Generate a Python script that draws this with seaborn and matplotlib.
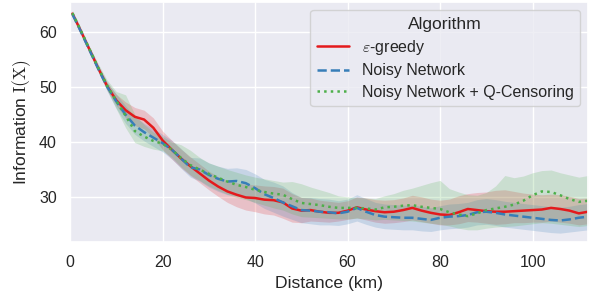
import pandas as pd
import seaborn as sns
import matplotlib
matplotlib.use("Agg")
import matplotlib.pyplot as plt

# Distance grid (km)
distance = [0.5, 2, 4, 6, 8, 10, 12, 14, 16, 18, 20, 22, 24, 26, 28, 30, 32, 34, 36, 38,
            40, 42, 44, 46, 48, 50, 52, 54, 56, 58, 60, 62, 64, 66, 68, 70, 72, 74, 76, 78,
            80, 82, 84, 86, 88, 90, 92, 94, 96, 98, 100, 102, 104, 106, 108, 110, 112]

# epsilon-greedy
greedy_mean = [63.4, 60.8, 57.2, 53.6, 50.2, 47.6, 45.8, 44.6, 44.1, 42.6, 40.3, 38.6, 37.0, 35.6, 34.3,
               33.0, 31.9, 31.0, 30.4, 29.9, 29.8, 29.5, 29.4, 29.0, 27.9, 27.5, 27.6, 27.3, 27.1, 27.1,
               27.5, 28.1, 27.7, 27.4, 27.2, 27.3, 27.6, 28.0, 27.5, 27.1, 26.8, 26.7, 27.2, 27.8, 27.6,
               27.4, 27.3, 27.3, 27.4, 27.5, 27.6, 27.7, 28.0, 27.8, 27.5, 27.0, 27.3]
greedy_low = [63.0, 60.4, 56.8, 53.1, 49.5, 46.6, 44.4, 43.0, 42.4, 40.8, 38.6, 36.9, 35.3, 33.9, 32.6,
              31.3, 30.1, 29.0, 28.2, 27.6, 27.3, 26.9, 26.7, 26.1, 25.4, 25.3, 25.6, 25.5, 25.4, 25.6,
              25.9, 26.2, 25.8, 25.4, 25.2, 25.3, 25.5, 25.8, 25.5, 25.2, 24.9, 24.9, 25.1, 25.5, 25.4,
              25.2, 25.0, 25.1, 25.3, 25.3, 25.4, 25.4, 25.6, 25.4, 25.2, 24.9, 25.1]
greedy_high = [63.8, 61.2, 57.6, 54.1, 50.9, 48.7, 47.3, 46.3, 45.8, 44.4, 42.0, 40.3, 38.7, 37.3, 36.0,
               34.7, 33.7, 33.0, 32.6, 32.3, 32.2, 32.0, 31.9, 31.6, 30.6, 29.9, 29.8, 29.4, 29.2, 29.0,
               29.3, 30.0, 29.8, 29.5, 29.4, 29.5, 29.8, 30.3, 30.0, 29.6, 29.4, 29.6, 30.2, 30.6, 30.8,
               30.9, 31.2, 31.3, 31.0, 30.7, 30.5, 30.4, 30.5, 30.4, 30.1, 29.7, 29.8]

# Noisy Network
noisy_mean = [63.3, 60.7, 57.1, 53.5, 50.1, 47.4, 45.0, 43.0, 41.8, 40.8, 39.8, 38.6, 37.0, 35.4, 35.0,
              34.0, 33.3, 32.8, 32.9, 32.5, 31.6, 30.5, 29.8, 29.0, 28.3, 27.6, 27.5, 27.3, 27.2, 27.0,
              27.3, 28.0, 27.3, 26.7, 26.4, 26.3, 26.2, 26.2, 26.0, 25.8, 26.2, 26.4, 26.5, 26.7, 27.2,
              27.3, 27.1, 26.8, 26.6, 26.4, 26.2, 26.0, 25.8, 25.7, 25.9, 26.2, 26.4]
noisy_low = [62.9, 60.3, 56.6, 52.9, 49.3, 46.1, 43.4, 41.4, 40.2, 39.2, 38.2, 36.9, 35.2, 33.6, 32.9,
             31.8, 31.0, 30.4, 30.2, 29.7, 28.9, 27.9, 27.2, 26.5, 25.9, 25.3, 25.1, 24.9, 24.9, 24.8,
             25.1, 25.6, 25.0, 24.5, 24.2, 24.1, 24.0, 24.0, 23.8, 23.7, 24.0, 24.2, 24.3, 24.5, 24.9,
             25.0, 24.8, 24.5, 24.3, 24.1, 23.9, 23.7, 23.5, 23.4, 23.6, 23.8, 24.0]
noisy_high = [63.7, 61.1, 57.6, 54.1, 50.9, 48.7, 46.6, 44.6, 43.4, 42.4, 41.4, 40.3, 38.8, 37.2, 37.1,
              36.2, 35.6, 35.2, 35.3, 35.0, 34.2, 33.2, 32.7, 32.0, 30.8, 29.9, 29.9, 29.7, 29.6, 29.3,
              29.6, 30.4, 29.7, 29.0, 28.7, 28.6, 28.5, 28.5, 28.3, 28.0, 28.4, 28.7, 28.8, 29.0, 29.5,
              29.7, 29.5, 29.2, 29.0, 28.8, 28.6, 28.4, 28.2, 28.1, 28.3, 28.6, 28.8]

# Noisy Network + Q-Censoring
censor_mean = [63.5, 60.9, 57.3, 53.7, 50.3, 47.5, 44.8, 42.0, 41.0, 40.2, 39.7, 38.6, 37.1, 35.8, 35.0,
               34.2, 33.5, 32.8, 32.2, 31.8, 31.3, 30.9, 30.6, 30.4, 29.6, 28.9, 28.7, 28.5, 28.2, 28.0,
               28.0, 28.0, 27.9, 27.7, 28.1, 28.2, 28.4, 28.5, 28.2, 28.0, 27.8, 27.2, 26.8, 26.5, 27.0,
               27.6, 27.9, 28.2, 28.6, 29.3, 30.3, 31.0, 30.9, 30.3, 29.6, 29.1, 29.3]
censor_low = [63.0, 60.4, 56.8, 53.1, 49.4, 46.0, 42.6, 39.9, 39.2, 38.7, 38.4, 37.2, 35.5, 34.0, 33.0,
              32.0, 31.2, 30.5, 29.9, 29.5, 29.0, 28.5, 28.0, 27.6, 26.9, 26.4, 26.3, 26.2, 26.1, 26.0,
              26.0, 26.1, 26.0, 25.8, 25.9, 25.8, 25.7, 25.6, 25.4, 25.2, 25.0, 24.7, 24.3, 24.0, 24.0,
              24.3, 24.5, 24.6, 24.7, 24.9, 25.1, 25.3, 25.2, 25.0, 24.8, 24.6, 24.8]
censor_high = [64.0, 61.4, 57.8, 54.4, 51.3, 49.2, 48.6, 45.0, 43.2, 41.8, 41.0, 40.0, 39.5, 38.5, 37.2,
               36.2, 35.6, 35.0, 34.5, 34.0, 33.6, 33.3, 33.0, 32.7, 32.8, 32.4, 31.8, 31.3, 30.8, 30.2,
               30.0, 29.9, 29.8, 29.7, 30.2, 30.6, 31.2, 31.6, 32.1, 32.6, 33.0, 31.5, 30.9, 30.4, 30.3,
               30.8, 32.0, 33.9, 33.5, 33.8, 34.4, 34.8, 34.9, 34.4, 34.0, 33.6, 33.9]

algorithms = [r"$\varepsilon$-greedy", "Noisy Network", "Noisy Network + Q-Censoring"]
means = [greedy_mean, noisy_mean, censor_mean]
lows = [greedy_low, noisy_low, censor_low]
highs = [greedy_high, noisy_high, censor_high]

sns.set_theme(style="darkgrid", context="notebook", font_scale=1.05)
plt.rcParams["font.family"] = ["Liberation Sans", "DejaVu Sans"]
plt.rcParams["mathtext.fontset"] = "cm"

colors = sns.color_palette("Set1", 3)
palette = dict(zip(algorithms, colors))
dashes = dict(zip(algorithms, ["", (3.7, 1.6), (1, 1.65)]))

# Long format for seaborn
frames = []
for name, m in zip(algorithms, means):
    frames.append(pd.DataFrame({"Distance": distance, "Information": m, "Algorithm": name}))
df = pd.concat(frames, ignore_index=True)

fig, ax = plt.subplots(figsize=(5.94, 3.02), dpi=100)
sns.lineplot(data=df, x="Distance", y="Information", hue="Algorithm", style="Algorithm",
             palette=palette, dashes=dashes, errorbar=None, linewidth=1.8, ax=ax)

# Shaded spread bands
for name, lo, hi in zip(algorithms, lows, highs):
    ax.fill_between(distance, lo, hi, color=palette[name], alpha=0.2, linewidth=0)

ax.set_xlim(0, 112)
ax.set_ylim(21.8, 65.5)
ax.set_xticks([0, 20, 40, 60, 80, 100])
ax.set_yticks([30, 40, 50, 60])
ax.set_xlabel("Distance (km)")
ax.set_ylabel(r"Information $\mathrm{I(X)}$")
ax.legend(title="Algorithm", loc="upper right", labelspacing=0.4)

plt.subplots_adjust(left=0.118, right=0.99, top=0.993, bottom=0.199)
plt.savefig("out.png", dpi=100)
